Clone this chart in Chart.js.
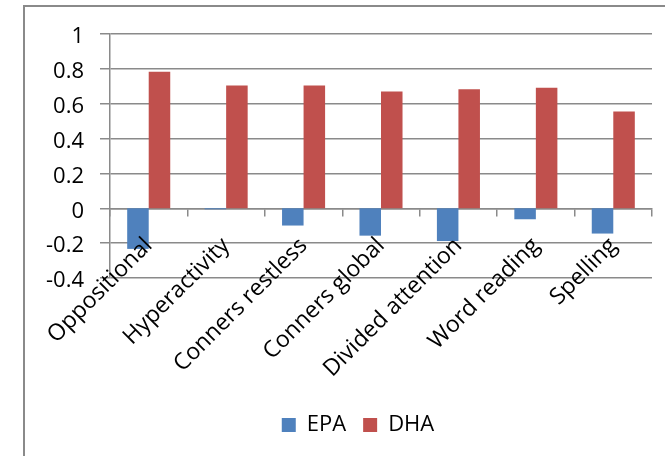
<!DOCTYPE html>
<html>
<head>
<meta charset="utf-8">
<script src="https://cdn.jsdelivr.net/npm/chart.js@4"></script>
<style>
  html, body { margin: 0; padding: 0; background: #fff; overflow: hidden; }
  #wrap { position: relative; width: 665px; height: 456px; }
  #frame { position: absolute; left: 23px; top: 5px; width: 700px; height: 500px; border: 2px solid #8a8a8a; box-sizing: border-box; }
  #chart { position: absolute; left: 0; top: 0; }
</style>
</head>
<body>
<div id="wrap">
  <div id="frame"></div>
  <canvas id="chart" width="665" height="456"></canvas>
</div>
<script>
const categories = ['Oppositional', 'Hyperactivity', 'Conners restless', 'Conners global', 'Divided attention', 'Word reading', 'Spelling'];
const epaValues = [-0.233, -0.006, -0.099, -0.157, -0.188, -0.063, -0.145];
const dhaValues = [0.784, 0.704, 0.704, 0.670, 0.683, 0.692, 0.555];
const yMin = -0.4, yMax = 1, yStep = 0.2;
const yTickLabels = ['-0.4', '-0.2', '0', '0.2', '0.4', '0.6', '0.8', '1'];

const font = 'Open Sans';
const gridColor = '#8a8a8a';

new Chart(document.getElementById('chart'), {
  type: 'bar',
  data: {
    labels: categories,
    datasets: [
      { label: 'EPA', data: epaValues, backgroundColor: '#4f81bd' },
      { label: 'DHA', data: dhaValues, backgroundColor: '#c0504d' }
    ]
  },
  options: {
    responsive: false,
    animation: false,
    layout: { padding: { left: 40, right: -11, top: 34, bottom: 10 } },
    datasets: { bar: { categoryPercentage: 0.556, barPercentage: 1 } },
    scales: {
      x: {
        position: { y: 0 },
        grid: { display: true, drawOnChartArea: false, drawTicks: true, tickLength: 7, color: gridColor, lineWidth: 1.5 },
        border: { display: true, color: gridColor, width: 1.5 },
        // z: 1 -> category labels drawn over the bars like in the original
        ticks: { z: 1, autoSkip: false, minRotation: 45, maxRotation: 45, padding: 17, color: '#000', font: { family: font, size: 23 } }
      },
      y: {
        min: yMin, max: yMax,
        afterFit: s => { s.width = 70; },
        grid: { color: gridColor, lineWidth: 1.5, tickLength: 10 },
        border: { display: true, color: gridColor, width: 1.5 },
        ticks: { stepSize: yStep, padding: 16, labelOffset: 3, color: '#000', font: { family: font, size: 22 }, callback: (v, i) => yTickLabels[i] }
      },
      // empty strip on the right so the plot ends where the reference does
      yRight: {
        position: 'right',
        display: true,
        afterFit: s => { s.width = 24; },
        grid: { display: false },
        border: { display: false },
        ticks: { display: false }
      }
    },
    plugins: {
      tooltip: { enabled: false },
      legend: {
        position: 'bottom',
        title: { display: true, text: ' ', font: { size: 10, lineHeight: 1 }, padding: { top: 0, bottom: 109 } },
        labels: { boxWidth: 14, boxHeight: 14, padding: 17, color: '#000', font: { family: font, size: 22 } }
      }
    }
  }
});
</script>
</body>
</html>
